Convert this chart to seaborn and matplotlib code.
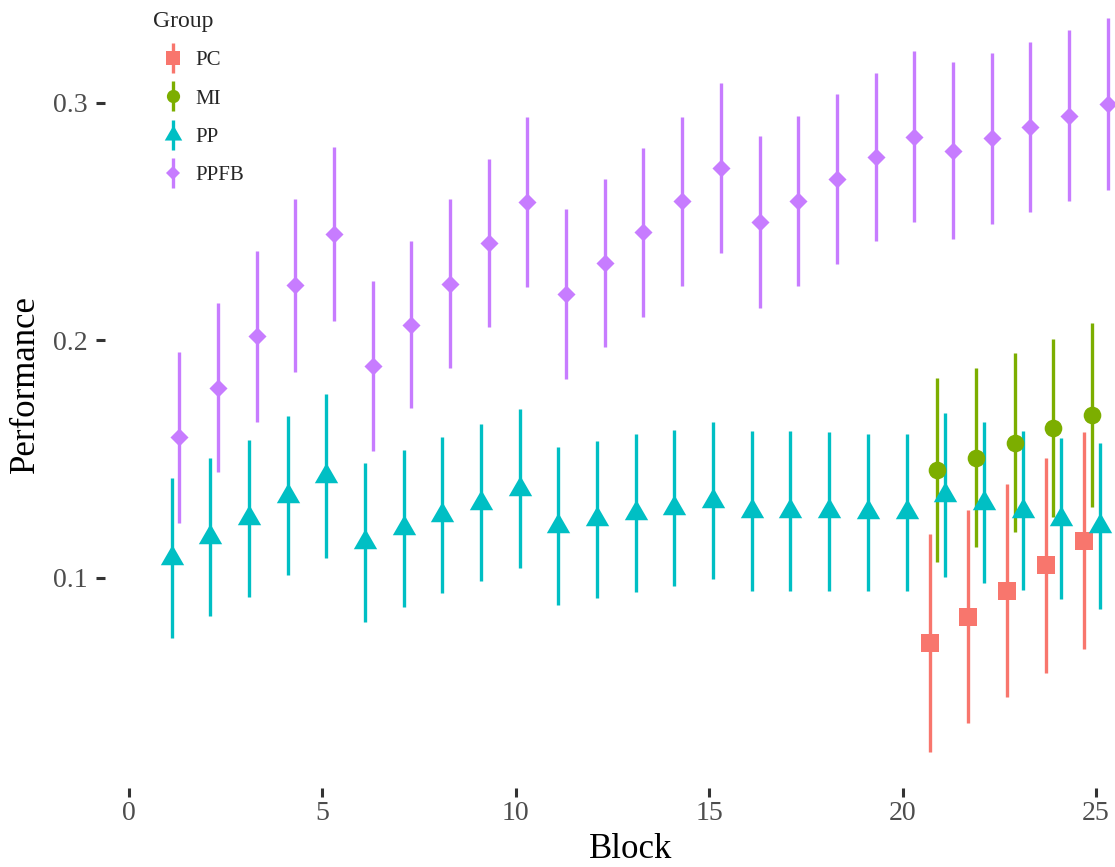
import numpy as np
import pandas as pd
import matplotlib
matplotlib.use("Agg")
import matplotlib.pyplot as plt
from matplotlib.lines import Line2D
from matplotlib.legend_handler import HandlerTuple
import seaborn as sns

# ---- data: mean performance and half-width of the interval per block ----
blocks_all = list(range(1, 26))
blocks_late = [21, 22, 23, 24, 25]

pc_mean = [0.0725, 0.0836, 0.0945, 0.1051, 0.1156]
pc_half = [0.0460, 0.0450, 0.0449, 0.0454, 0.0458]

mi_mean = [0.1452, 0.1504, 0.1568, 0.1629, 0.1685]
mi_half = [0.0387, 0.0377, 0.0377, 0.0376, 0.0388]

pp_mean = [0.1081, 0.1171, 0.1249, 0.1345, 0.1428, 0.1148, 0.1207, 0.1264,
           0.1316, 0.1374, 0.1216, 0.1245, 0.1272, 0.1294, 0.1323, 0.1280,
           0.1281, 0.1279, 0.1274, 0.1274, 0.1347, 0.1315, 0.1282, 0.1248,
           0.1217]
pp_half = [0.0337, 0.0333, 0.0332, 0.0334, 0.0346, 0.0333, 0.0332, 0.0329,
           0.0329, 0.0334, 0.0333, 0.0332, 0.0331, 0.0328, 0.0331, 0.0337,
           0.0336, 0.0334, 0.0332, 0.0332, 0.0345, 0.0339, 0.0335, 0.0339,
           0.0349]

ppfb_mean = [0.1590, 0.1800, 0.2015, 0.2230, 0.2447, 0.1890, 0.2065, 0.2237,
             0.2408, 0.2580, 0.2194, 0.2325, 0.2454, 0.2584, 0.2724, 0.2496,
             0.2587, 0.2677, 0.2770, 0.2857, 0.2798, 0.2850, 0.2896, 0.2945,
             0.2994]
ppfb_half = [0.0360, 0.0356, 0.0358, 0.0363, 0.0365, 0.0357, 0.0353, 0.0355,
             0.0353, 0.0358, 0.0359, 0.0355, 0.0355, 0.0355, 0.0357, 0.0362,
             0.0358, 0.0358, 0.0354, 0.0358, 0.0372, 0.0360, 0.0358, 0.0360,
             0.0363]

groups = ["PC", "MI", "PP", "PPFB"]
colors = {"PC": "#F8766D", "MI": "#7CAE00", "PP": "#00BFC4", "PPFB": "#C77CFF"}

# equilateral triangle centred on its centroid
tri = [(0, 1.5551), (1.3468, -0.7776), (-1.3468, -0.7776), (0, 1.5551)]
markers = {"PC": "s", "MI": "o", "PP": tri, "PPFB": "D"}
msize = {"PC": 13, "MI": 12.7, "PP": 19.4, "PPFB": 9.2}

frames = [
    pd.DataFrame({"Block": blocks_late, "Performance": pc_mean, "half": pc_half, "Group": "PC"}),
    pd.DataFrame({"Block": blocks_late, "Performance": mi_mean, "half": mi_half, "Group": "MI"}),
    pd.DataFrame({"Block": blocks_all, "Performance": pp_mean, "half": pp_half, "Group": "PP"}),
    pd.DataFrame({"Block": blocks_all, "Performance": ppfb_mean, "half": ppfb_half, "Group": "PPFB"}),
]
df = pd.concat(frames, ignore_index=True)

# dodge the four groups side by side within each block
dodge_width = 0.8
offsets = {g: (i - (len(groups) - 1) / 2) * dodge_width / len(groups) for i, g in enumerate(groups)}
df["x"] = df["Block"] + df["Group"].map(offsets)

sns.set_style("white")
plt.rcParams["font.family"] = ["Liberation Serif", "DejaVu Serif"]

W, H = 1115, 867
fig = plt.figure(figsize=(W / 100, H / 100), dpi=100)
ax = fig.add_axes([105 / W, 1 - 788 / H, (1156 - 105) / W, (788 + 20) / H])

lw = 2.4
for g in groups:
    sub = df[df["Group"] == g]
    ax.vlines(sub["x"], sub["Performance"] - sub["half"], sub["Performance"] + sub["half"],
              color=colors[g], linewidth=lw, zorder=2)
    sns.scatterplot(data=sub, x="x", y="Performance", color=colors[g], marker=markers[g],
                    s=msize[g] ** 2, linewidth=0, ax=ax, zorder=3, legend=False)

ax.set_xlim(-0.6205, 26.55)
ax.set_ylim(0.0114, 0.3516)
ax.set_xticks([0, 5, 10, 15, 20, 25])
ax.set_yticks([0.1, 0.2, 0.3])
ax.set_yticklabels(["0.1", "0.2", "0.3"])
for s in ax.spines.values():
    s.set_visible(False)
ax.grid(False)
ax.tick_params(axis="both", which="major", direction="out", length=6.5, width=2.2,
               color="#333333", labelsize=20, labelcolor="#4D4D4D", pad=3,
               bottom=True, left=True)
ax.tick_params(axis="y", pad=6)
ax.set_xlabel("Block", fontsize=25, color="black", labelpad=5)
ax.set_ylabel("Performance", fontsize=25, color="black", labelpad=8)

# legend: marker with a vertical interval line through it
handles = []
for g in groups:
    bar = Line2D([], [], linestyle="none", marker="|", markersize=22,
                 markeredgewidth=lw, color=colors[g])
    pt = Line2D([], [], linestyle="none", marker=markers[g], markersize=msize[g] * 0.75,
                markeredgewidth=0, color=colors[g])
    handles.append((bar, pt))
leg = ax.legend(handles, groups, handler_map={tuple: HandlerTuple(ndivide=1, pad=0)},
                title="Group", loc="upper left", bbox_to_anchor=(153 / W, 1 - 11 / H),
                bbox_transform=fig.transFigure, frameon=False, fontsize=15,
                title_fontsize=17, alignment="left", borderpad=0, borderaxespad=0,
                handlelength=1.9, handletextpad=0.15, labelspacing=0.9)

fig.savefig("out.png", dpi=100, facecolor="white")
